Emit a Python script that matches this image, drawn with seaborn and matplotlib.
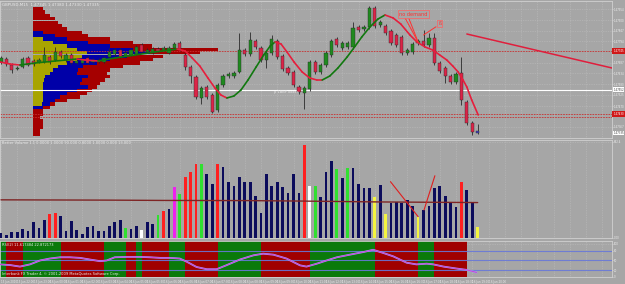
import matplotlib
matplotlib.use("Agg")
import matplotlib.pyplot as plt
import matplotlib.transforms as mtransforms
import numpy as np
import pandas as pd
import seaborn as sns

# ---------------- data ----------------
opens = [1.47690,1.47705,1.47675,1.47655,1.47665,1.47710,1.47695,1.47690,1.47690,1.47715,
         1.47700,1.47740,1.47700,1.47725,1.47685,1.47685,1.47710,1.47690,1.47700,1.47690,
         1.47715,1.47730,1.47750,1.47720,1.47725,1.47730,1.47775,1.47740,1.47735,1.47755,
         1.47750,1.47735,1.47760,1.47785,1.47725,1.47665,1.47615,1.47510,1.47565,1.47525,
         1.47450,1.47575,1.47620,1.47620,1.47640,1.47750,1.47730,1.47795,1.47760,1.47700,
         1.47735,1.47795,1.47720,1.47660,1.47640,1.47565,1.47535,1.47555,1.47690,1.47640,
         1.47675,1.47725,1.47805,1.47760,1.47765,1.47765,1.47865,1.47855,1.47865,1.47960,
         1.47875,1.47870,1.47845,1.47825,1.47815,1.47735,1.47740,1.47785,1.47795,1.47775,
         1.47810,1.47685,1.47660,1.47620,1.47590,1.47635,1.47490,1.47385,1.47345]
highs = [1.47720,1.47715,1.47685,1.47670,1.47715,1.47720,1.47705,1.47710,1.47765,1.47725,
         1.47765,1.47750,1.47735,1.47735,1.47705,1.47710,1.47720,1.47710,1.47710,1.47720,
         1.47760,1.47760,1.47760,1.47745,1.47760,1.47775,1.47785,1.47760,1.47765,1.47765,
         1.47770,1.47770,1.47790,1.47795,1.47735,1.47675,1.47625,1.47570,1.47575,1.47535,
         1.47585,1.47630,1.47640,1.47645,1.47835,1.47760,1.47840,1.47805,1.47770,1.47745,
         1.47825,1.47805,1.47730,1.47670,1.47650,1.47575,1.47570,1.47700,1.47700,1.47685,
         1.47745,1.47805,1.47815,1.47795,1.47795,1.47890,1.47875,1.47875,1.47970,1.47970,
         1.47900,1.47880,1.47855,1.47835,1.47825,1.47760,1.47790,1.47805,1.47850,1.47835,
         1.47835,1.47695,1.47670,1.47630,1.47640,1.47715,1.47500,1.47395,1.47380]
lows = [1.47680,1.47670,1.47635,1.47650,1.47660,1.47670,1.47670,1.47685,1.47685,1.47680,
        1.47695,1.47710,1.47690,1.47680,1.47680,1.47680,1.47680,1.47685,1.47685,1.47685,
        1.47710,1.47720,1.47710,1.47715,1.47720,1.47725,1.47735,1.47735,1.47730,1.47740,
        1.47745,1.47730,1.47755,1.47745,1.47650,1.47585,1.47505,1.47480,1.47505,1.47435,
        1.47440,1.47565,1.47610,1.47610,1.47635,1.47720,1.47720,1.47755,1.47690,1.47660,
        1.47725,1.47705,1.47645,1.47625,1.47565,1.47530,1.47455,1.47545,1.47630,1.47630,
        1.47665,1.47715,1.47765,1.47750,1.47755,1.47755,1.47840,1.47845,1.47855,1.47860,
        1.47865,1.47825,1.47775,1.47765,1.47725,1.47725,1.47730,1.47775,1.47765,1.47765,
        1.47675,1.47635,1.47585,1.47580,1.47580,1.47475,1.47375,1.47325,1.47330]
closes = [1.47710,1.47680,1.47650,1.47660,1.47705,1.47675,1.47680,1.47700,1.47725,1.47690,
          1.47740,1.47720,1.47725,1.47685,1.47695,1.47700,1.47685,1.47700,1.47690,1.47710,
          1.47740,1.47750,1.47715,1.47735,1.47750,1.47765,1.47740,1.47750,1.47755,1.47745,
          1.47760,1.47760,1.47780,1.47755,1.47665,1.47620,1.47515,1.47560,1.47515,1.47440,
          1.47575,1.47620,1.47630,1.47635,1.47750,1.47730,1.47800,1.47765,1.47700,1.47735,
          1.47805,1.47715,1.47655,1.47635,1.47575,1.47540,1.47560,1.47690,1.47640,1.47675,
          1.47735,1.47795,1.47775,1.47785,1.47785,1.47860,1.47850,1.47865,1.47960,1.47870,
          1.47890,1.47835,1.47785,1.47775,1.47735,1.47750,1.47780,1.47795,1.47775,1.47810,
          1.47685,1.47645,1.47620,1.47590,1.47630,1.47500,1.47385,1.47340,1.47335]

# moving average (vertices: bar index, price)
ma_x = [-0.18,1.66,3.5,6.3,10.0,14.0,15.5,17.9,21.0,24.7,28.4,31.2,32.5,34.0,35.3,36.7,38.2,39.5,
        40.6,41.7,43.0,44.3,45.6,47.1,48.5,49.7,50.6,51.7,52.8,54.1,55.6,57.0,58.3,59.3,60.7,62.2,
        63.9,65.4,66.6,68.1,69.6,70.9,72.4,73.8,75.5,76.8,78.3,79.7,81.0,82.3,83.4,84.4,85.3,86.0,
        86.9,88.1]
ma_y = [1.47690,1.47680,1.47675,1.47685,1.47695,1.47705,1.47700,1.47695,1.47710,1.47725,1.47740,
        1.47750,1.47755,1.47745,1.47710,1.47670,1.47610,1.47560,1.47525,1.47510,1.47520,1.47550,
        1.47600,1.47665,1.47725,1.47770,1.47790,1.47780,1.47740,1.47690,1.47640,1.47610,1.47600,
        1.47600,1.47620,1.47660,1.47715,1.47770,1.47815,1.47865,1.47905,1.47925,1.47910,1.47880,
        1.47825,1.47790,1.47765,1.47750,1.47725,1.47700,1.47670,1.47640,1.47600,1.47565,1.47500,
        1.47425]

# volume profile on the left
prof_price = [1.47957,1.47940,1.47923,1.47906,1.47889,1.47872,1.47855,1.47838,1.47821,1.47804,
              1.47787,1.47770,1.47753,1.47736,1.47719,1.47702,1.47685,1.47668,1.47651,1.47634,
              1.47617,1.47600,1.47583,1.47566,1.47549,1.47532,1.47515,1.47498,1.47481,1.47464,
              1.47447,1.47430,1.47413,1.47396,1.47379,1.47362,1.47345,1.47328]
prof_red = [1.85,2.2,3.1,4.1,4.6,5.35,6.3,9.0,10.2,14.2,18.5,22.0,34.2,30.8,24.0,22.1,19.8,16.6,
            14.2,13.7,14.2,13.3,12.4,11.8,10.9,10.0,8.7,6.3,4.1,3.1,1.85,1.85,1.3,1.85,1.85,1.85,
            1.3,1.3]
prof_blue = [0,0,0,0,0,0,0,1.85,4.1,6.3,10.2,14.2,18.5,21.6,17.4,14.2,11.8,9.2,8.3,8.1,10.2,9.0,
             8.7,10.2,8.1,6.3,5.0,4.1,3.1,1.85,0,0,0,0,0,0,0,0]
prof_yellow = [0,0,0,0,0,0,0,0,0,1.85,3.7,6.3,8.1,10.0,9.0,8.1,6.3,4.6,3.7,3.1,2.2,2.0,1.85,1.85,
               1.85,1.85,1.85,1.85,1.7,0,0,0,0,0,0,0,0,0]

# horizontal levels and trend line
white_level = 1.47552
red_levels = [1.47745, 1.47430, 1.47415]
trend_x = [86.0, 112.8]
trend_y = [1.47830, 1.47660]

# volume panel
volumes = [29,18,40,40,57,44,102,62,117,156,161,143,44,110,51,22,69,79,44,44,
           79,106,117,62,55,79,51,102,90,150,178,189,337,286,403,432,484,484,418,352,
           484,465,370,341,399,370,370,275,161,418,341,366,337,293,418,293,612,341,341,271,
           432,506,451,396,462,458,356,326,326,269,348,156,227,234,227,249,211,135,183,211,
           330,343,275,238,205,370,315,231,73]
vol_kind = list("nnnnnnnnn" "rr" "nnnnnnnnnnnn" "g" "nn" "w" "nn" "g" "r" "n" "m" "g" "rrr" "g"
                "nn" "r" "nnnnnnnnnnnnnnn" "r" "w" "g" "nnn" "g" "n" "g" "nnnn" "y" "n" "y"
                "nnnnn" "y" "nnnnnnn" "r" "nn" "y")
vol_ma_x = [0, 20, 30, 45, 55, 70, 88]
vol_ma_y = [250, 248, 246, 245, 242, 236, 232]
vline1_x = [71.9, 77.0]; vline1_y = [370, 139]
vline2_x = [78.1, 80.1]; vline2_y = [183, 409]

# RSI panel
rsi_x = [-0.18,1.66,3.5,5.35,7.2,9.0,10.9,12.7,14.6,16.4,18.3,19.5,21.0,23.2,25.7,27.5,29.4,31.2,
         33.0,34.3,36.1,38.0,39.8,41.7,44.1,46.6,48.4,50.3,52.7,55.2,56.4,58.3,60.1,62.0,64.4,
         66.9,68.7,70.6,72.4,74.9,76.7,78.6,79.8,81.7,84.1,86.0,87.8]
rsi_y = [38.2,36.2,31.5,38.2,50,55.9,59.7,59.7,57.9,52.9,47.9,50,59.7,60.9,60.9,59.7,57.9,57.9,
         55.9,46.2,30.3,23.5,23.5,36.2,52.9,65.6,70.6,67.6,55.9,35.3,31.5,40.3,50,59.7,67.6,
         75.6,82.4,72.6,62.6,43.2,38.2,40.3,38.2,31.5,25.6,21.5,13.8]
rsi_band = ("G" "RRR" "GGGGGGG" "RRRRRRRR" "GGGG" "RR" "G" "RRRRR" "GGG" "RRRRRR" "GGGGGGGG"
            "RRRRRRRRR" "GGGGGGGGGGGG" "RRRRRRRR" "GGG" "RRRRRR" "---")
rsi_levels = [20, 50, 80]

price_ticks = [1.47954, 1.47900, 1.47847, 1.47794, 1.47687, 1.47634, 1.47580,
               1.47525, 1.47470, 1.47367]
time_labels = ["15 Jun 2010", "15 Jun 22:00", "15 Jun 23:00", "16 Jun 00:00", "16 Jun 01:00",
               "16 Jun 02:00", "16 Jun 03:00", "16 Jun 04:00", "16 Jun 05:00", "16 Jun 05:30",
               "16 Jun 06:00", "16 Jun 06:30", "16 Jun 07:00", "16 Jun 07:30", "16 Jun 08:00",
               "16 Jun 08:30", "16 Jun 09:00", "16 Jun 09:30", "16 Jun 10:00", "16 Jun 11:00",
               "16 Jun 12:00", "16 Jun 13:00", "16 Jun 14:00", "16 Jun 15:00", "16 Jun 16:00",
               "16 Jun 16:30", "16 Jun 17:00", "16 Jun 18:00", "16 Jun 18:30", "16 Jun 19:00",
               "16 Jun 20:00"]

title_text = "GBPUSD,M15  1.47345 1.47380 1.47330 1.47335"
vol_title = "Better Volume 1.1 0.0000 1.0000 90.000 0.8000 1.0000 0.000 13.000"
rsi_title = "RSI(2) 11.617484 22.872173"
copyright_text = "Interbank FX Trader 4, \u00a9 2001-2009 MetaQuotes Software Corp."

# ---------------- style ----------------
sns.set_theme(style="white")
plt.rcParams["font.family"] = ["DejaVu Sans"]
plt.rcParams["patch.edgecolor"] = "none"
BG = "#a6a6a6"
GRID = "#bdbdbd"
TXT = "#ececec"
SPINE = "#d0d0d0"
UP = "#1f8a1f"
DOWN = "#dc2448"
RFS = 1.9  # right-axis label size

W, H = 625, 284
fig = plt.figure(figsize=(W / 100, H / 100), dpi=100, facecolor=BG)


def R(x0, y0, x1, y1):
    return [x0 / W, 1 - y1 / H, (x1 - x0) / W, (y1 - y0) / H]


ax1 = fig.add_axes(R(0, 1, 612, 137.5))
ax2 = fig.add_axes(R(0, 140, 612, 238))
ax3 = fig.add_axes(R(0, 241, 612, 277))

XL = (-0.185, 112.8)
grid_x = np.arange(0, 113, 3)

n = len(opens)
idx = np.arange(n)

# --- price panel ---
ax1.barh(prof_price, prof_red, left=5.9, height=0.00017, color="#a50000", lw=0, zorder=1)
ax1.barh(prof_price, prof_blue, left=5.9, height=0.00017, color="#0000a8", lw=0, zorder=1.1)
ax1.barh(prof_price, prof_yellow, left=5.9, height=0.00017, color="#a8a400", lw=0, zorder=1.2)

ax1.axhline(white_level, color="white", lw=0.8, zorder=2)
for lv in red_levels:
    ax1.axhline(lv, color="#c83030", lw=0.6, ls=(0, (2, 1.2)), zorder=2)

o = np.array(opens); c = np.array(closes); hi = np.array(highs); lo = np.array(lows)
ccols = [UP if cc >= oo else DOWN for oo, cc in zip(o, c)]
ccols[-1] = "#4040c0"
ax1.vlines(idx, lo, hi, color="#2a2a2a", lw=0.6, zorder=3)
body_h = np.maximum(np.abs(c - o), 0.00002)
ax1.bar(idx, body_h, bottom=np.minimum(o, c), width=0.6, color=ccols,
        edgecolor="#2a2a2a", linewidth=0.3, zorder=4)

for i in range(len(ma_x) - 1):
    col = "#11780f" if ma_y[i + 1] > ma_y[i] else "#e61e3c"
    ax1.plot(ma_x[i:i + 2], ma_y[i:i + 2], color=col, lw=1.2,
             solid_capstyle="round", zorder=5)

ax1.plot(trend_x, trend_y, color="#e01e3c", lw=1.1, zorder=5)

# annotations
ax1.text(76.1, 1.4793, "no demand", color="#ff3030", fontsize=3.6, ha="center", va="center",
         zorder=7, bbox=dict(boxstyle="square,pad=0.25", fc=BG, ec="#ff6060", lw=0.5))
ax1.plot([74.5, 77.0], [1.47915, 1.47790], color="#ff3030", lw=0.7, zorder=6)
ax1.plot([75.2, 77.0], [1.47915, 1.47790], color="#ff3030", lw=0.7, zorder=6)
ax1.text(81.0, 1.47882, "\u00df", color="#ff3030", fontsize=3.6, ha="center", va="center",
         zorder=7, bbox=dict(boxstyle="square,pad=0.2", fc=BG, ec="#ff6060", lw=0.5))
ax1.plot([80.3, 78.0], [1.47866, 1.47825], color="#ff3030", lw=0.7, zorder=6)
ax1.text(50.4, 1.47538, "p 1BBP xxxxx", color="#e8e8e8", fontsize=2.6, ha="left",
         va="center", zorder=7)

ax1.set_ylim(1.473125, 1.47995)
ax1.set_yticks(price_ticks)
ax1.set_yticklabels([f"{p:.5f}" for p in price_ticks])

# right-side price boxes
trans1 = mtransforms.blended_transform_factory(ax1.transAxes, ax1.transData)
for lv in [red_levels[0], red_levels[1]]:
    ax1.text(1.002, lv, f"{lv:.5f}", transform=trans1, fontsize=RFS, color="white",
             va="center", ha="left", clip_on=False,
             bbox=dict(boxstyle="square,pad=0.3", fc="#d01818", ec="none"))
ax1.text(1.002, white_level, f"{white_level:.5f}", transform=trans1, fontsize=RFS,
         color="#404040", va="center", ha="left", clip_on=False,
         bbox=dict(boxstyle="square,pad=0.1", fc="white", ec="none"))
ax1.text(1.002, closes[-1], f"{closes[-1]:.5f}", transform=trans1, fontsize=RFS,
         color="#404040", va="center", ha="left", clip_on=False,
         bbox=dict(boxstyle="square,pad=0.1", fc="white", ec="none"))
ax1.text(0.003, 0.985, title_text, transform=ax1.transAxes, fontsize=2.8, color=TXT,
         va="top", ha="left", zorder=8)

# --- volume panel ---
vdf = pd.DataFrame({"bar": idx, "volume": volumes, "kind": vol_kind})
pal = {"n": "#0c0c5c", "r": "#ff2020", "g": "#30e030", "w": "#ffffff",
       "m": "#ee20ee", "y": "#f4f440"}
sns.barplot(data=vdf, x="bar", y="volume", hue="kind", palette=pal, native_scale=True,
            dodge=False, width=0.5, saturation=1, errorbar=None, legend=False, ax=ax2,
            linewidth=0, zorder=3)
sns.lineplot(x=vol_ma_x, y=vol_ma_y, color="#7e2424", lw=1.0, ax=ax2, zorder=4)
ax2.plot(vline1_x, vline1_y, color="#e01e1e", lw=0.8, zorder=5)
ax2.plot(vline2_x, vline2_y, color="#e01e1e", lw=0.8, zorder=5)
ax2.set_ylim(-2, 645)
ax2.set_yticks([0, 632.4])
ax2.set_yticklabels(["0.00", "632.4"])
ax2.text(0.003, 0.985, vol_title, transform=ax2.transAxes, fontsize=2.6, color=TXT,
         va="top", ha="left", zorder=8)

# --- RSI panel ---
for i, b in enumerate(rsi_band):
    if b == "-":
        continue
    left = -0.5 if i == 0 else i
    ax3.axvspan(left, i + 1, color="#0a7a0a" if b == "G" else "#a00000", lw=0, zorder=1)
for lv in rsi_levels:
    ax3.axhline(lv, color="#6878d8", lw=0.8, alpha=0.9, zorder=2)
sns.lineplot(x=rsi_x, y=rsi_y, color="#9aa0ff", lw=1.3, ax=ax3, zorder=3)
sns.lineplot(x=rsi_x, y=rsi_y, color="#d040d0", lw=0.7, ax=ax3, zorder=4)
ax3.set_ylim(0, 109)
ax3.set_yticks([0, 20, 50, 80, 100])
ax3.text(0.003, 0.94, rsi_title, transform=ax3.transAxes, fontsize=2.6, color=TXT,
         va="top", ha="left", zorder=8)
ax3.text(0.003, 0.04, copyright_text, transform=ax3.transAxes, fontsize=2.6, color=TXT,
         va="bottom", ha="left", zorder=8)

# --- common styling ---
for ax in (ax1, ax2, ax3):
    ax.set_facecolor(BG)
    ax.set_xlim(*XL)
    ax.set_xlabel("")
    ax.set_ylabel("")
    ax.set_xticks(grid_x)
    ax.yaxis.tick_right()
    ax.tick_params(axis="y", labelsize=RFS, colors=TXT, length=0.8, width=0.4, pad=0.4)
    ax.tick_params(axis="x", length=1.2, width=0.4, colors=TXT, labelsize=2.0, pad=0.8)
    ax.grid(True, color=GRID, ls=(0, (1, 1.5)), lw=0.5, zorder=0)
    ax.set_axisbelow(True)
    for s in ax.spines.values():
        s.set_color(SPINE)
        s.set_linewidth(0.6)

for ax in (ax1, ax2):
    ax.set_xticklabels([])
labels = time_labels + [""] * (len(grid_x) - len(time_labels))
ax3.set_xticklabels(labels)
for t in ax3.get_xticklabels():
    t.set_ha("left")

fig.savefig("out.png", dpi=100, facecolor=BG)
